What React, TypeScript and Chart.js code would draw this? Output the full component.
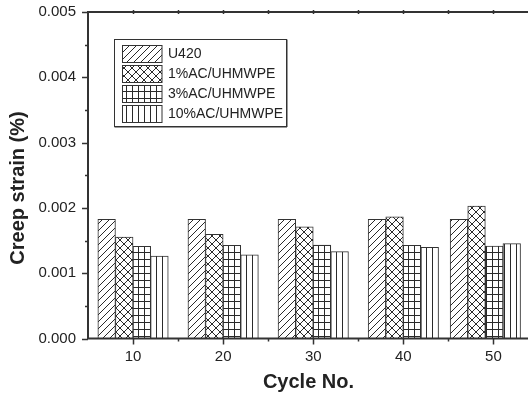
import React, { useEffect, useRef } from 'react';
import { Chart, registerables } from 'chart.js';

Chart.register(...registerables);

// ---- data ----
const categories = [10, 20, 30, 40, 50];
const plottedX = [10, 20, 30, 40, 49.1]; // where each group sits on the cycle axis in the figure
const seriesNames = ['U420', '1%AC/UHMWPE', '3%AC/UHMWPE', '10%AC/UHMWPE'];
const u420 = [0.001825, 0.001825, 0.001825, 0.001825, 0.001825];
const ac1 = [0.001554, 0.001595, 0.001712, 0.001865, 0.002029];
const ac3 = [0.00141, 0.001427, 0.001432, 0.001427, 0.001417];
const ac10 = [0.001263, 0.001283, 0.00133, 0.001397, 0.001452];
const yTicks = [0, 0.001, 0.002, 0.003, 0.004, 0.005];
const yMinorTicks = [0.0005, 0.0015, 0.0025, 0.0035, 0.0045];
const xTicks = [10, 20, 30, 40, 50];
const xMinorTicks = [15, 25, 35, 45];
const xTitle = 'Cycle No.';
const yTitle = 'Creep strain (%)';

const FONT = '"Liberation Sans", Arial, sans-serif';
const INK = '#222';
const AXIS = '#333';

type Kind = 'diag' | 'cross' | 'grid' | 'vert';
const kinds: Kind[] = ['diag', 'cross', 'grid', 'vert'];

function makePattern(ctx: CanvasRenderingContext2D, kind: Kind): CanvasPattern | string {
  const c = document.createElement('canvas');
  let w = 7, h = 7;
  if (kind === 'cross') { w = 8; h = 8; }
  if (kind === 'grid') { w = 6; h = 7; }
  if (kind === 'vert') { w = 6; h = 6; }
  c.width = w; c.height = h;
  const g = c.getContext('2d')!;
  g.fillStyle = '#fff';
  g.fillRect(0, 0, w, h);
  g.strokeStyle = '#2a2a2a';
  g.lineWidth = 1;
  g.beginPath();
  if (kind === 'diag' || kind === 'cross') {
    g.moveTo(-1, h + 1); g.lineTo(w + 1, -1);
    g.moveTo(-1, 1); g.lineTo(1, -1);
    g.moveTo(w - 1, h + 1); g.lineTo(w + 1, h - 1);
  }
  if (kind === 'cross') {
    g.moveTo(-1, -1); g.lineTo(w + 1, h + 1);
    g.moveTo(w - 1, -1); g.lineTo(w + 1, 1);
    g.moveTo(-1, h - 1); g.lineTo(1, h + 1);
  }
  if (kind === 'grid') {
    g.moveTo(0.5, 0); g.lineTo(0.5, h);
    g.moveTo(0, 0.5); g.lineTo(w, 0.5);
  }
  if (kind === 'vert') {
    g.moveTo(0.5, 0); g.lineTo(0.5, h);
  }
  g.stroke();
  return ctx.createPattern(c, 'repeat') || '#fff';
}

const framePlugin = {
  id: 'originFrame',
  afterDraw(chart: any) {
    const { ctx, chartArea: a, scales } = chart;
    const xs = scales.x, ys = scales.y;
    ctx.save();
    ctx.strokeStyle = AXIS;
    ctx.lineWidth = 2;
    ctx.beginPath();
    ctx.moveTo(a.left, a.top); ctx.lineTo(a.right, a.top);
    ctx.moveTo(a.left, a.top - 1); ctx.lineTo(a.left, a.bottom + 1);
    ctx.moveTo(a.left - 1, a.bottom); ctx.lineTo(a.right, a.bottom);
    ctx.stroke();

    ctx.lineWidth = 1.5;
    ctx.beginPath();
    yTicks.forEach((v) => {
      const y = Math.round(ys.getPixelForValue(v)) + 0.5;
      ctx.moveTo(a.left - 6, y); ctx.lineTo(a.left, y);
    });
    yMinorTicks.forEach((v) => {
      const y = Math.round(ys.getPixelForValue(v)) + 0.5;
      ctx.moveTo(a.left - 3, y); ctx.lineTo(a.left, y);
    });
    xTicks.forEach((v) => {
      const x = Math.round(xs.getPixelForValue(v)) + 0.5;
      ctx.moveTo(x, a.bottom); ctx.lineTo(x, a.bottom + 6);
      ctx.moveTo(x, a.top - 2); ctx.lineTo(x, a.top + 2);
    });
    xMinorTicks.forEach((v) => {
      const x = Math.round(xs.getPixelForValue(v)) + 0.5;
      ctx.moveTo(x, a.bottom); ctx.lineTo(x, a.bottom + 3);
      ctx.moveTo(x, a.top - 2); ctx.lineTo(x, a.top + 2);
    });
    ctx.stroke();

    // legend
    const lx = a.left + 26.5, ly = a.top + 27.5, lw = 172, lh = 87;
    ctx.lineWidth = 1;
    ctx.strokeStyle = AXIS;
    ctx.strokeRect(lx, ly, lw, lh);
    ctx.beginPath();
    ctx.moveTo(lx, ly + lh + 0.5); ctx.lineTo(lx + lw + 0.5, ly + lh + 0.5);
    ctx.moveTo(lx + lw + 0.5, ly); ctx.lineTo(lx + lw + 0.5, ly + lh + 0.5);
    ctx.stroke();
    chart.data.datasets.forEach((ds: any, i: number) => {
      const sx = lx + 8, sy = ly + 6 + i * 20, sw = 39.5, sh = 17;
      ctx.fillStyle = ds.backgroundColor;
      ctx.fillRect(sx, sy, sw, sh);
      ctx.strokeStyle = AXIS;
      ctx.strokeRect(sx, sy, sw, sh);
      ctx.fillStyle = INK;
      ctx.font = `14px ${FONT}`;
      ctx.textAlign = 'left';
      ctx.textBaseline = 'middle';
      ctx.fillText(ds.label, sx + sw + 6, sy + sh / 2 + 0.5);
    });

    // axis titles
    ctx.fillStyle = INK;
    ctx.font = `bold 20px ${FONT}`;
    ctx.textAlign = 'center';
    ctx.textBaseline = 'middle';
    ctx.fillText(xTitle, a.left + 220.5, 382);
    ctx.save();
    ctx.translate(18, 188);
    ctx.rotate(-Math.PI / 2);
    ctx.fillText(yTitle, 0, 0);
    ctx.restore();
    ctx.restore();
  },
};

export default function App() {
  const ref = useRef<HTMLCanvasElement | null>(null);
  useEffect(() => {
    const canvas = ref.current!;
    const ctx = canvas.getContext('2d')!;
    const datasets = [u420, ac1, ac3, ac10].map((vals, i) => ({
      label: seriesNames[i],
      data: plottedX.map((x, j) => ({ x, y: vals[j] })),
      backgroundColor: makePattern(ctx, kinds[i]),
      borderColor: AXIS,
      borderWidth: 1,
      barThickness: 17.6,
    }));
    const chart = new Chart(canvas, {
      type: 'bar',
      data: { labels: categories.map(String), datasets: datasets as any },
      options: {
        responsive: false,
        animation: false,
        devicePixelRatio: 1,
        layout: { padding: { left: 0, right: 6.5, top: 12, bottom: 0 } },
        plugins: { legend: { display: false }, tooltip: { enabled: false } },
        scales: {
          x: {
            type: 'linear',
            min: 5,
            max: 55,
            offset: false,
            afterBuildTicks: (s: any) => { s.ticks = xTicks.map((v) => ({ value: v })); },
            afterFit: (s: any) => { s.height = 56.5; s.paddingLeft = 0; s.paddingRight = 0; },
            grid: { display: false, drawTicks: false },
            border: { display: false },
            ticks: {
              padding: 9,
              autoSkip: false,
              maxRotation: 0,
              color: INK,
              font: { family: FONT, size: 15 },
              callback: (v: any) => String(v),
            },
          },
          y: {
            min: 0,
            max: 0.005,
            afterBuildTicks: (s: any) => { s.ticks = yTicks.map((v) => ({ value: v })); },
            afterFit: (s: any) => { s.width = 88; s.paddingTop = 0; s.paddingBottom = 0; },
            grid: { display: false, drawTicks: false },
            border: { display: false },
            ticks: {
              padding: 12,
              color: INK,
              font: { family: FONT, size: 15 },
              callback: (v: any) => Number(v).toFixed(3),
            },
          },
        },
      } as any,
      plugins: [framePlugin],
    });
    return () => chart.destroy();
  }, []);
  return (
    <div style={{ position: 'fixed', left: 0, top: 0, width: 528, height: 395, overflow: 'hidden', background: '#fff' }}>
      <canvas ref={ref} width={545} height={395} style={{ display: 'block', width: 545, height: 395 }} />
    </div>
  );
}
